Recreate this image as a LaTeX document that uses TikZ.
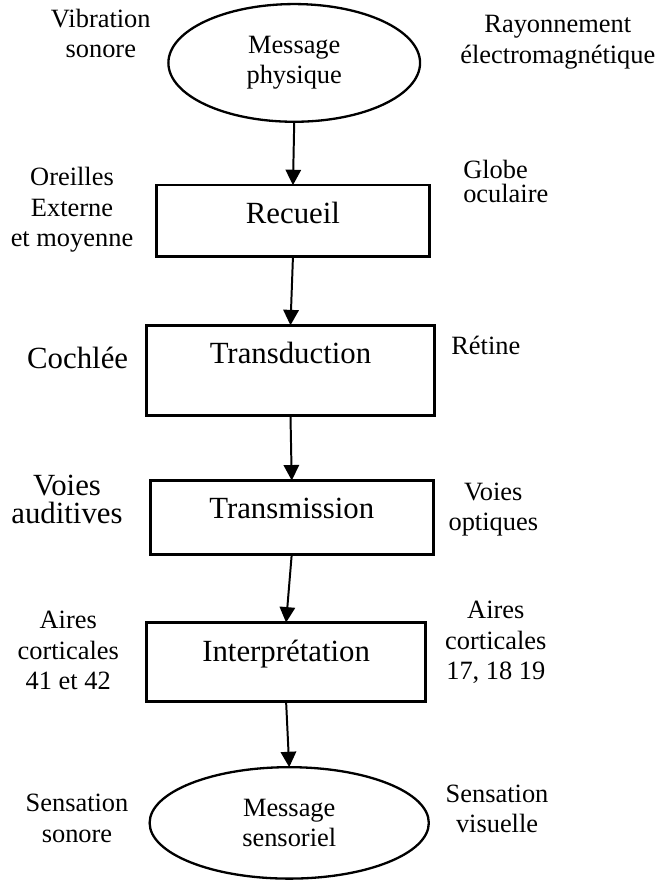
\documentclass[tikz,border=0pt]{standalone}
\usepackage{fontspec}
\setmainfont{Liberation Serif}
\usetikzlibrary{shapes.geometric,arrows.meta}

\begin{document}
\begin{tikzpicture}[every node/.style={inner sep=0pt, outer sep=0pt, align=center, font=\fontsize{12}{13.8}\selectfont},
  message/.style={draw, ellipse, line width=1.05pt},
  etape/.style={draw, rectangle, line width=1.2pt, text height=17.5pt, font=\fontsize{14}{16}\selectfont},
  grand/.style={font=\fontsize{14}{16}\selectfont},
  fleche/.style={-{Triangle[length=7pt,width=7pt]}, line width=0.9pt}]
\useasboundingbox (0,0) rectangle (10.495,14.105);

% messages
\node[message, minimum width=4.02cm, minimum height=1.88cm] (physique) at (4.70,13.10) {Message\\physique};
\node[message, minimum width=4.46cm, minimum height=1.78cm] (sensoriel) at (4.62,0.96) {Message\\sensoriel};

% etapes
\node[etape, minimum width=4.36cm, text depth=14.8pt] (recueil) at (4.68,10.58) {Recueil};
\node[etape, minimum width=4.60cm, text depth=23.4pt] (transduction) at (4.64,8.19) {Transduction};
\node[etape, minimum width=4.52cm, text depth=16.1pt] (transmission) at (4.66,5.84) {Transmission};
\node[etape, minimum width=4.46cm, text depth=18.4pt] (interpretation) at (4.57,3.53) {Interprétation};

\draw[fleche] (physique.south) -- (recueil.north);
\draw[fleche] (recueil.south) -- (transduction.north);
\draw[fleche] (transduction.south) -- (transmission.north);
\draw[fleche] (transmission.south) -- (interpretation.north);
\draw[fleche] (interpretation.south) -- (sensoriel.north);

% oreille
\node (vibration) at (1.61,13.57) {Vibration\\sonore};
\node (oreilles) at (1.15,10.75) {Oreilles\\Externe\\et moyenne};
\node[grand] (cochlee) at (1.24,8.39) {Cochlée};
\node[font=\fontsize{14}{12.8}\selectfont] (voiesaud) at (1.07,6.13) {Voies\\auditives};
\node (airesaud) at (1.09,3.71) {Aires\\corticales\\41 et 42};
\node (sonore) at (1.23,1.03) {Sensation\\sonore};

% oeil
\node (rayonnement) at (8.91,13.43) {Rayonnement\\électromagnétique};
\node[anchor=west, align=left, font=\fontsize{12}{11}\selectfont] (globe) at (7.40,11.21) {Globe\\oculaire};
\node (retine) at (7.76,8.58) {Rétine};
\node (voiesopt) at (7.88,5.97) {Voies\\optiques};
\node (airesvis) at (7.92,3.84) {Aires\\corticales\\17, 18 19};
\node (visuelle) at (7.94,1.18) {Sensation\\visuelle};
\end{tikzpicture}
\end{document}
